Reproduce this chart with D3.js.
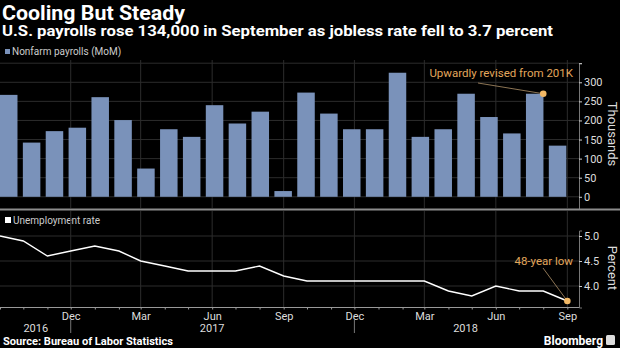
<!DOCTYPE html>
<html>
<head>
<meta charset="utf-8">
<script src="https://cdn.jsdelivr.net/npm/d3@7"></script>
<style>
body{margin:0;background:#000;}
text{font-family:Roboto,"Open Sans",sans-serif;}
</style>
</head>
<body>
<svg id="chart" width="620" height="348"></svg>
<script>
var months = ["2016-09","2016-10","2016-11","2016-12","2017-01","2017-02","2017-03","2017-04","2017-05","2017-06","2017-07","2017-08","2017-09","2017-10","2017-11","2017-12","2018-01","2018-02","2018-03","2018-04","2018-05","2018-06","2018-07","2018-08","2018-09"];
var payrolls = [267,142,172,181,261,201,74,177,157,240,192,223,15,273,218,177,177,325,157,177,270,209,166,270,134];
var jobless = [5.0,4.9,4.6,4.7,4.8,4.7,4.5,4.4,4.3,4.3,4.3,4.4,4.2,4.1,4.1,4.1,4.1,4.1,4.1,3.9,3.8,4.0,3.9,3.9,3.7];
var quarterTicks = ["2016-12","2017-03","2017-06","2017-09","2017-12","2018-03","2018-06","2018-09"];
var quarterLabels = ["Dec","Mar","Jun","Sep","Dec","Mar","Jun","Sep"];
var yearLabels = ["2016","2017","2018"];
var yearLabelDates = ["2016-10-17","2017-06-01","2018-04-23"];
var yearMarks = ["2016-12","2017-12"];
var payrollTicks = [0,50,100,150,200,250,300];
var rateTicks = [4.0,4.5,5.0];

var parseM = d3.timeParse("%Y-%m");
var parseD = d3.timeParse("%Y-%m-%d");

var svg = d3.select("#chart");
svg.append("rect").attr("width",620).attr("height",348).attr("fill","#000");

var barColor = "#7a92ba", gridColor = "#2c2c2c", axisColor = "#777", labelColor = "#ddd", noteColor = "#e3a75c";
var plotRight = 579;

// time scale shared by both panels
var x = d3.scaleTime()
	.domain([parseM("2016-09"), parseD("2018-09-16")])
	.range([0, plotRight]);

// band scale for the bars
var xb = d3.scaleBand()
	.domain(months)
	.range([-2.7, 569])
	.paddingInner(0.235)
	.paddingOuter(0.1175);

var yTop = d3.scaleLinear().domain([-32, 350]).range([209, 63.2]);
var yBot = d3.scaleLinear().domain([3.57, 5.11]).range([307.5, 230.5]);

// titles
svg.append("text").attr("x",2).attr("y",20)
	.attr("font-family","'Open Sans',sans-serif").attr("font-weight","bold")
	.attr("font-size",20).attr("fill","#fff")
	.attr("textLength",183).attr("lengthAdjust","spacingAndGlyphs")
	.text("Cooling But Steady");
svg.append("text").attr("x",2).attr("y",36)
	.attr("font-family","'Open Sans',sans-serif").attr("font-weight","bold")
	.attr("font-size",14).attr("fill","#fff")
	.attr("textLength",551).attr("lengthAdjust","spacingAndGlyphs")
	.text("U.S. payrolls rose 134,000 in September as jobless rate fell to 3.7 percent");

// ---- top panel ----
var gTop = svg.append("g");
gTop.append("rect").attr("x",5).attr("y",49).attr("width",5).attr("height",5).attr("fill",barColor);
gTop.append("text").attr("x",12).attr("y",55).attr("font-size",10).attr("fill","#ccc").text("Nonfarm payrolls (MoM)");

gTop.selectAll(".hg").data(payrollTicks.concat([350])).enter().append("line")
	.attr("x1",0).attr("x2",plotRight)
	.attr("y1",function(d){return yTop(d);}).attr("y2",function(d){return yTop(d);})
	.attr("stroke",gridColor).attr("stroke-width",1);
gTop.selectAll(".vg").data(quarterTicks).enter().append("line")
	.attr("x1",function(d){return x(parseM(d));}).attr("x2",function(d){return x(parseM(d));})
	.attr("y1",60).attr("y2",208)
	.attr("stroke",gridColor).attr("stroke-width",1);

gTop.selectAll(".bar").data(payrolls).enter().append("rect")
	.attr("x",function(d,i){return xb(months[i]);})
	.attr("width",xb.bandwidth())
	.attr("y",function(d){return yTop(d);})
	.attr("height",function(d){return yTop(0)-yTop(d);})
	.attr("fill",barColor);

var yAxisTop = d3.axisRight(yTop).tickValues(payrollTicks.concat([350]))
	.tickSize(3).tickPadding(2)
	.tickFormat(function(d){return d===350 ? "" : d;});
var gyt = gTop.append("g").attr("transform","translate("+plotRight+",0)").call(yAxisTop);
gyt.select(".domain").attr("stroke",axisColor);
gyt.selectAll(".tick line").attr("stroke","#ccc");
gyt.selectAll(".tick text").attr("fill",labelColor).attr("font-size",11).attr("font-family","Roboto,sans-serif");
gTop.append("text").attr("transform","translate(612,134) rotate(90)")
	.attr("text-anchor","middle").attr("dominant-baseline","central")
	.attr("font-size",13).attr("fill",labelColor).text("Thousands");

// annotation for revised August
var augIdx = months.indexOf("2018-08");
var ax = x(parseM("2018-08")), ay = yTop(payrolls[augIdx]);
gTop.append("line").attr("x1",478).attr("y1",83).attr("x2",ax).attr("y2",ay)
	.attr("stroke","#b0926a").attr("stroke-width",0.8);
gTop.append("circle").attr("cx",ax).attr("cy",ay).attr("r",3.3).attr("fill","#f2b865");
gTop.append("text").attr("x",573).attr("y",77).attr("text-anchor","end")
	.attr("font-size",11.5).attr("fill",noteColor).text("Upwardly revised from 201K");

// separator
svg.append("line").attr("x1",0).attr("x2",620).attr("y1",209.5).attr("y2",209.5)
	.attr("stroke","#8c8c8c").attr("stroke-width",2);

// ---- bottom panel ----
var gBot = svg.append("g");
gBot.append("rect").attr("x",5).attr("y",217).attr("width",6).attr("height",6).attr("fill","#fff");
gBot.append("text").attr("x",13).attr("y",224).attr("font-size",10).attr("fill","#ccc").text("Unemployment rate");

gBot.selectAll(".hg").data(rateTicks).enter().append("line")
	.attr("x1",0).attr("x2",plotRight)
	.attr("y1",function(d){return yBot(d);}).attr("y2",function(d){return yBot(d);})
	.attr("stroke",gridColor);
gBot.selectAll(".vg").data(quarterTicks).enter().append("line")
	.attr("x1",function(d){return x(parseM(d));}).attr("x2",function(d){return x(parseM(d));})
	.attr("y1",211).attr("y2",307)
	.attr("stroke",gridColor);

var line = d3.line()
	.x(function(d,i){return x(parseM(months[i]));})
	.y(function(d){return yBot(d);});
gBot.append("path").datum(jobless).attr("d",line)
	.attr("fill","none").attr("stroke","#fff").attr("stroke-width",1.4);

var yAxisBot = d3.axisRight(yBot).tickValues(rateTicks).tickSize(3).tickPadding(2)
	.tickFormat(d3.format(".1f"));
var gyb = gBot.append("g").attr("transform","translate("+plotRight+",0)").call(yAxisBot);
gyb.select(".domain").attr("stroke",axisColor);
gyb.selectAll(".tick line").attr("stroke","#ccc");
gyb.selectAll(".tick text").attr("fill",labelColor).attr("font-size",11).attr("font-family","Roboto,sans-serif");
gBot.append("text").attr("transform","translate(612,268) rotate(90)")
	.attr("text-anchor","middle").attr("dominant-baseline","central")
	.attr("font-size",13).attr("fill",labelColor).text("Percent");

// x axis: monthly minor ticks, quarterly labels
var xAxis = d3.axisBottom(x).tickValues(months.map(parseM)).tickSize(2).tickPadding(3)
	.tickFormat(function(d){
		var k = quarterTicks.indexOf(d3.timeFormat("%Y-%m")(d));
		return k >= 0 ? quarterLabels[k] : "";
	});
var gx = gBot.append("g").attr("transform","translate(0,307.5)").call(xAxis);
gx.select(".domain").attr("stroke","#999").attr("d","M0,0H"+plotRight);
gx.selectAll(".tick line").attr("stroke","#999");
gx.selectAll(".tick text").attr("fill",labelColor).attr("font-size",11).attr("font-family","Roboto,sans-serif");

gBot.selectAll(".ym").data(yearMarks).enter().append("line")
	.attr("x1",function(d){return x(parseM(d));}).attr("x2",function(d){return x(parseM(d));})
	.attr("y1",320).attr("y2",333).attr("stroke","#777");
gBot.selectAll(".yl").data(yearLabels).enter().append("text")
	.attr("x",function(d,i){return x(parseD(yearLabelDates[i]));})
	.attr("y",332).attr("text-anchor","middle")
	.attr("font-size",11).attr("fill",labelColor).text(function(d){return d;});

// 48-year low
var sx = x(parseM("2018-09")), sy = yBot(jobless[jobless.length-1]);
gBot.append("line").attr("x1",543).attr("y1",268).attr("x2",sx).attr("y2",sy)
	.attr("stroke","#b0926a").attr("stroke-width",0.8);
gBot.append("circle").attr("cx",sx).attr("cy",sy).attr("r",3.3).attr("fill","#f2b865");
gBot.append("text").attr("x",573).attr("y",265).attr("text-anchor","end")
	.attr("font-size",11.5).attr("fill",noteColor).text("48-year low");

// footer
svg.append("text").attr("x",3).attr("y",345)
	.attr("font-family","'Open Sans',sans-serif").attr("font-weight","bold")
	.attr("font-size",10).attr("fill","#fff")
	.attr("textLength",170).attr("lengthAdjust","spacingAndGlyphs")
	.text("Source: Bureau of Labor Statistics");
svg.append("text").attr("x",603).attr("y",345).attr("text-anchor","end")
	.attr("font-family","'Open Sans',sans-serif").attr("font-weight","bold")
	.attr("font-size",12).attr("fill","#fff")
	.text("Bloomberg");
svg.append("rect").attr("x",606).attr("y",335).attr("width",9).attr("height",10).attr("rx",1.5).attr("fill","#ddd");
</script>
</body>
</html>
